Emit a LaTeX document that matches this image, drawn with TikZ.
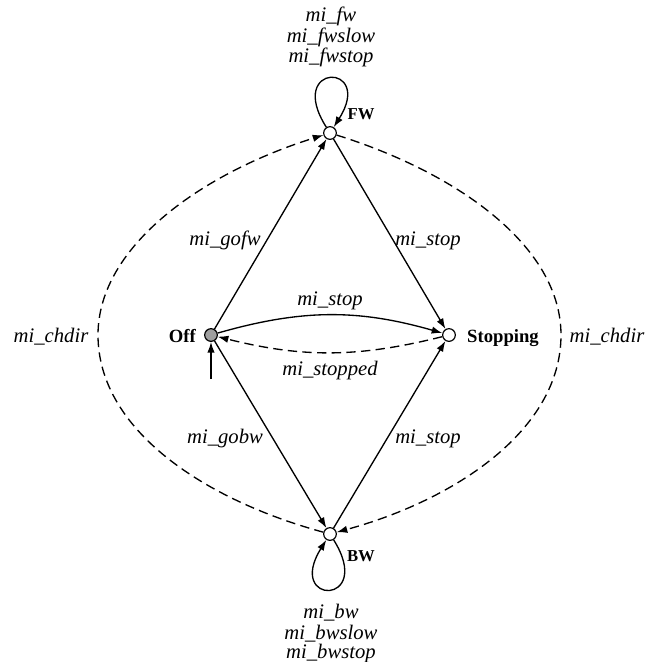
\documentclass[tikz,border=0pt]{standalone}
\usepackage{fontspec}
\setmainfont{Liberation Serif}
\usetikzlibrary{arrows.meta}
\begin{document}
\begin{tikzpicture}[x=0.75pt,y=-0.75pt,
  state/.style={circle,draw,line width=0.9pt,minimum size=9.5pt,inner sep=0pt,fill=white},
  lbl/.style={font=\fontsize{15.5}{18}\selectfont\itshape,inner sep=0pt,anchor=base},
  nm/.style={font=\fontsize{14}{16}\selectfont\bfseries,inner sep=0pt,anchor=base},
  snm/.style={font=\fontsize{12.5}{15}\selectfont\bfseries,inner sep=0pt,anchor=base},
  edge/.style={line width=1pt,-{Latex[length=8pt,width=5.5pt]}},
  dedge/.style={edge,dash pattern=on 7pt off 4pt}]
\useasboundingbox (0,0) rectangle (648,662);
\node[state] (FW) at (330,133) {};
\node[state,fill=gray!75] (Off) at (211,335) {};
\node[state] (ST) at (449,335) {};
\node[state] (BW) at (330,534) {};
\coordinate (L) at (98,335);
\coordinate (R) at (561,335);
\coordinate (init) at (211,379);
% names
\node[snm] at (361,119) {FW};
\node[snm] at (361,561) {BW};
\node[nm,anchor=base east] at (196,342) {Off};
\node[nm] at (503,342) {Stopping};
% loops
\draw[edge] (FW) .. controls (285,62) and (375,62) .. (FW);
\draw[edge] (BW) .. controls (375,606) and (285,606) .. (BW);
\node[lbl] at (331,21) {mi\_fw};
\node[lbl] at (331,42) {mi\_fwslow};
\node[lbl] at (331,62) {mi\_fwstop};
\node[lbl] at (331,618) {mi\_bw};
\node[lbl] at (331,639) {mi\_bwslow};
\node[lbl] at (331,658) {mi\_bwstop};
% straight edges
\draw[edge] (Off) -- (FW);
\draw[edge] (FW) -- (ST);
\draw[edge] (Off) -- (BW);
\draw[edge] (BW) -- (ST);
\draw[edge] (Off) to[bend left=16] (ST);
\draw[dedge] (ST) to[bend left=14] (Off);
\draw[edge] (init) -- (Off);
\node[lbl] at (225,245) {mi\_gofw};
\node[lbl] at (428,245) {mi\_stop};
\node[lbl] at (330,305) {mi\_stop};
\node[lbl] at (330,375) {mi\_stopped};
\node[lbl] at (225,443) {mi\_gobw};
\node[lbl] at (428,443) {mi\_stop};
% big dashed curves
\draw[dedge] (BW) .. controls (205,500) and (98,430) .. (L) .. controls (98,245) and (205,172) .. (FW);
\draw[dedge] (FW) .. controls (455,172) and (561,245) .. (R) .. controls (561,430) and (455,500) .. (BW);
\node[lbl] at (51,342) {mi\_chdir};
\node[lbl] at (607,342) {mi\_chdir};
\end{tikzpicture}
\end{document}
